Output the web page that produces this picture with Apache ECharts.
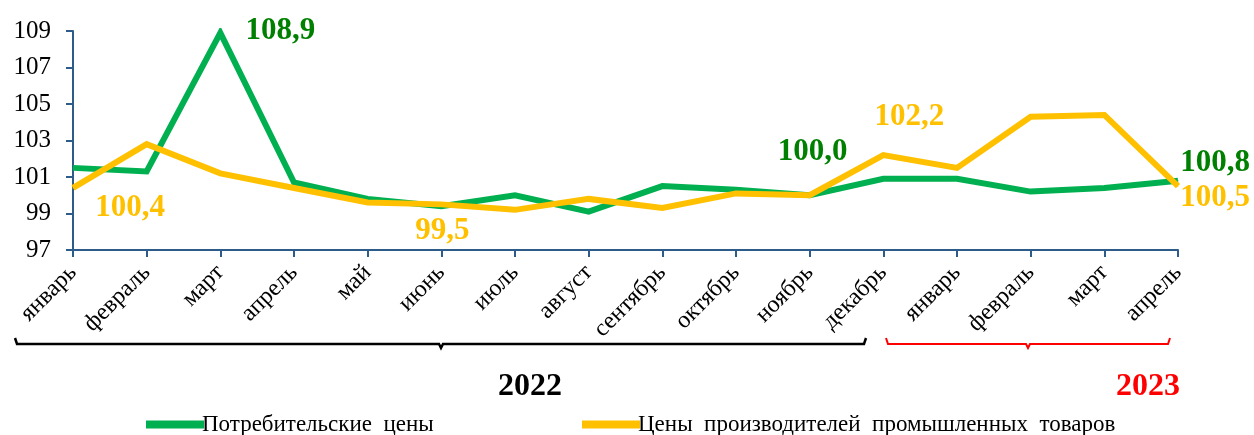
<!DOCTYPE html>
<html>
<head>
<meta charset="utf-8">
<script src="https://cdn.jsdelivr.net/npm/echarts@6/dist/echarts.min.js"></script>
<style>
  html, body { margin: 0; padding: 0; background: #fff; }
  #chart { width: 1254px; height: 435px; }
</style>
</head>
<body>
<div id="chart"></div>
<script>
var months = ["январь", "февраль", "март", "апрель", "май", "июнь", "июль", "август",
  "сентябрь", "октябрь", "ноябрь", "декабрь", "январь", "февраль", "март", "апрель"];
var consumerPrices = [101.5, 101.3, 108.9, 100.7, 99.8, 99.4, 100.0, 99.1,
  100.5, 100.3, 100.0, 100.9, 100.9, 100.2, 100.4, 100.8];
var producerPrices = [100.4, 102.8, 101.2, 100.4, 99.6, 99.5, 99.2, 99.8,
  99.3, 100.1, 100.0, 102.2, 101.5, 104.3, 104.4, 100.5];
var yearLabels = ["2022", "2023"];
var seriesNames = ["Потребительские  цены", "Цены  производителей  промышленных  товаров"];

var serif = "'Liberation Serif', 'Times New Roman', serif";
var green = "#00b050";
var yellow = "#ffc000";
var axisColor = "#2e5c8a";

// which points get a value label, and where it sits relative to the point
var greenLabels = { 2: [60, -2], 10: [3, -43], 15: [37, -18] };
var yellowLabels = { 0: [57, 20], 5: [1, 27], 11: [26, -38], 15: [37, 12] };

function fmt(v) {
  return v.toFixed(1).replace(".", ",");
}

function buildData(values, labels, color) {
  return values.map(function (v, i) {
    if (!labels[i]) return v;
    return {
      value: v,
      label: {
        show: true,
        position: "inside",
        offset: labels[i],
        formatter: function (p) { return fmt(p.value); },
        fontFamily: serif,
        fontWeight: "bold",
        fontSize: 31,
        color: color
      }
    };
  });
}

var legendText = { fontFamily: serif, fontSize: 23, color: "#000", padding: [0, 0, 0, -7] };

var chart = echarts.init(document.getElementById("chart"));
chart.setOption({
  animation: false,
  grid: { left: 73, right: 76, top: 31, bottom: 185, containLabel: false },
  legend: [
    {
      data: [seriesNames[0]],
      left: 141, top: 408,
      itemWidth: 58, itemHeight: 8, itemGap: 0,
      icon: "rect",
      textStyle: legendText
    },
    {
      data: [seriesNames[1]],
      left: 577, top: 408,
      itemWidth: 58, itemHeight: 8, itemGap: 0,
      icon: "rect",
      textStyle: legendText
    }
  ],
  xAxis: {
    type: "category",
    data: months,
    boundaryGap: false,
    axisLine: { lineStyle: { color: axisColor, width: 2 } },
    axisTick: { show: true, alignWithLabel: true, length: 7, lineStyle: { color: axisColor, width: 2 } },
    axisLabel: {
      interval: 0,
      rotate: 45,
      margin: 19,
      fontFamily: serif,
      fontSize: 24,
      color: "#000"
    },
    splitLine: { show: false }
  },
  yAxis: {
    type: "value",
    min: 97,
    max: 109,
    interval: 2,
    axisLine: { show: true, lineStyle: { color: axisColor, width: 2 } },
    axisTick: { show: true, length: 7, lineStyle: { color: axisColor, width: 2 } },
    axisLabel: { fontFamily: serif, fontSize: 25, color: "#000", margin: 22 },
    splitLine: { show: false }
  },
  series: [
    {
      name: seriesNames[0],
      type: "line",
      data: buildData(consumerPrices, greenLabels, "#008000"),
      symbol: "circle",
      symbolSize: 1,
      showSymbol: true,
      lineStyle: { color: green, width: 6, join: "miter" },
      itemStyle: { color: green },
      z: 2
    },
    {
      name: seriesNames[1],
      type: "line",
      data: buildData(producerPrices, yellowLabels, yellow),
      symbol: "circle",
      symbolSize: 1,
      showSymbol: true,
      lineStyle: { color: yellow, width: 6, join: "miter" },
      itemStyle: { color: yellow },
      z: 3
    }
  ],
  graphic: [
    {
      type: "polyline",
      shape: { points: [[15, 338], [17, 344], [439, 344], [441, 348], [443, 344], [864, 344], [866, 338]] },
      style: { stroke: "#000", lineWidth: 2.5, fill: null }
    },
    {
      type: "polyline",
      shape: { points: [[886, 338], [888, 344], [1026, 344], [1028, 348], [1030, 344], [1168, 344], [1170, 338]] },
      style: { stroke: "#ff0000", lineWidth: 2, fill: null }
    },
    {
      type: "text",
      left: 498, top: 371,
      style: { text: yearLabels[0], font: "bold 32px " + serif, fill: "#000" }
    },
    {
      type: "text",
      left: 1116, top: 371,
      style: { text: yearLabels[1], font: "bold 32px " + serif, fill: "#ff0000" }
    }
  ]
});
</script>
</body>
</html>
